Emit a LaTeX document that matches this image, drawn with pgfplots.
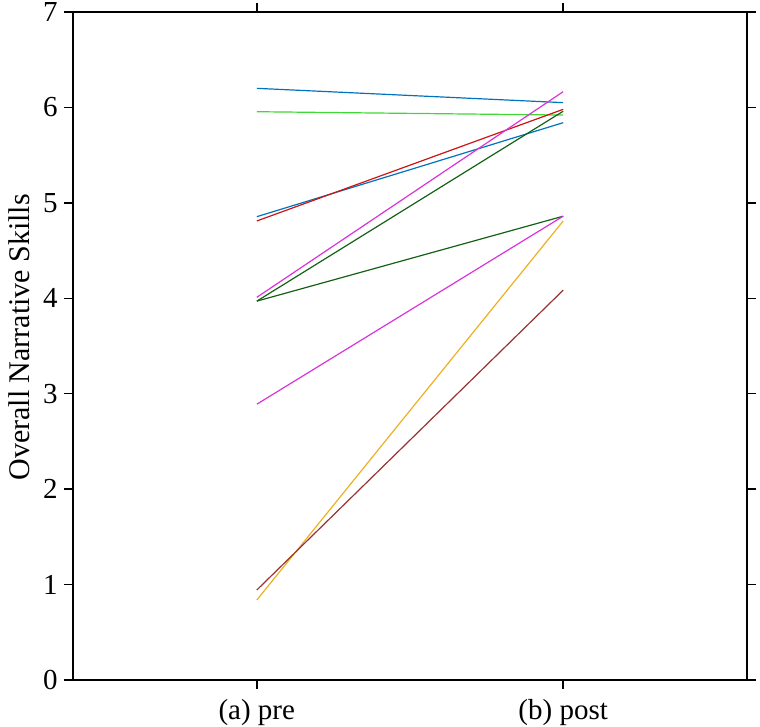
\documentclass[border=0pt]{standalone}
\usepackage{pgfplots}
\pgfplotsset{compat=1.18}
\usepackage{fontspec}
\setmainfont{Liberation Serif}
\definecolor{cblue}{rgb}{0.0,0.45,0.74}
\definecolor{cgreen}{rgb}{0.25,0.85,0.2}
\definecolor{cred}{rgb}{0.80,0.08,0.08}
\definecolor{cmag}{rgb}{0.85,0.2,0.85}
\definecolor{cdkgreen}{rgb}{0.08,0.38,0.08}
\definecolor{corange}{rgb}{0.93,0.69,0.13}
\definecolor{cbrown}{rgb}{0.6,0.2,0.2}
\begin{document}
\fontsize{14.5}{17}\selectfont
\begin{tikzpicture}
\begin{axis}[
  scale only axis,
  width=337pt, height=334pt,
  xmin=0.4, xmax=2.6, ymin=0, ymax=7,
  xtick={1,2}, xticklabels={(a) pre,(b) post},
  ytick={0,1,...,7},
  tick align=outside,
  major tick length=4.5pt,
  tick style={black, line width=0.7pt},
  axis line style={line width=0.75pt},
  every axis plot/.append style={line width=0.6pt, mark=none},
  ylabel={Overall Narrative Skills},
  tick label style={font=\fontsize{14.5}{17}\selectfont},
  yticklabel style={inner ysep=1.5pt, inner xsep=3pt},
  ylabel style={font=\fontsize{15}{17}\selectfont, at={(ticklabel cs:0.513)}, yshift=-1.5pt},
  /pgf/number format/assume math mode=true,
  clip=false,
]
\addplot[cblue] coordinates {(1,6.20) (2,6.05)};
\addplot[cgreen] coordinates {(1,5.955) (2,5.92)};
\addplot[cblue] coordinates {(1,4.855) (2,5.84)};
\addplot[cred] coordinates {(1,4.81) (2,5.98)};
\addplot[cmag] coordinates {(1,4.01) (2,6.165)};
\addplot[cdkgreen] coordinates {(1,3.97) (2,5.96)};
\addplot[cdkgreen] coordinates {(1,3.97) (2,4.86)};
\addplot[cmag] coordinates {(1,2.89) (2,4.86)};
\addplot[corange] coordinates {(1,0.838) (2,4.81)};
\addplot[cbrown] coordinates {(1,0.943) (2,4.085)};
\end{axis}
\pgfresetboundingbox
\path ([shift={(-36.5pt,-23.5pt)}]current axis.south west) rectangle ([shift={(6.5pt,6pt)}]current axis.north east);
\end{tikzpicture}
\end{document}
